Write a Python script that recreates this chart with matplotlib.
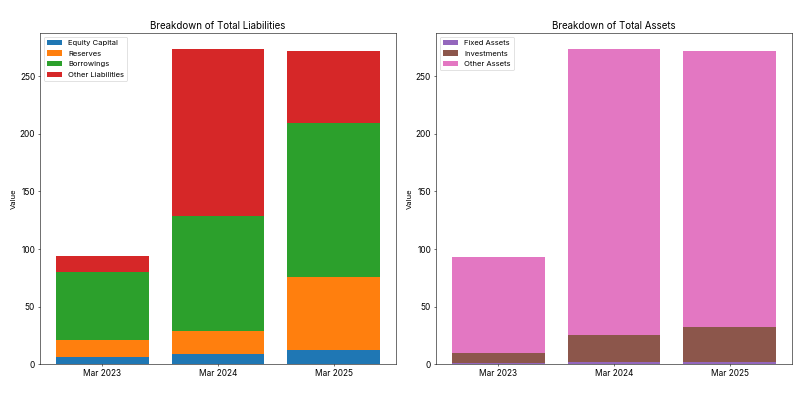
import numpy as np
import matplotlib
matplotlib.use("Agg")
import matplotlib.pyplot as plt

plt.rcParams['font.family'] = ['Inter', 'DejaVu Sans']

years = ["Mar 2023", "Mar 2024", "Mar 2025"]

# liabilities side
equity_capital = [6.4, 9.0, 12.2]
reserves = [14.4, 20.0, 63.9]
borrowings = [59.4, 100.0, 133.1]
other_liabilities = [13.6, 144.8, 62.8]

# assets side
fixed_assets = [1.0, 2.0, 2.0]
investments = [8.9, 23.2, 30.4]
other_assets = [83.5, 248.6, 239.6]

x = np.arange(len(years))
fig, (ax1, ax2) = plt.subplots(1, 2, figsize=(16, 8), dpi=50)

bottom = np.zeros(len(years))
for vals, lab, col in [(equity_capital, "Equity Capital", "tab:blue"),
                       (reserves, "Reserves", "tab:orange"),
                       (borrowings, "Borrowings", "tab:green"),
                       (other_liabilities, "Other Liabilities", "tab:red")]:
    ax1.bar(x, vals, bottom=bottom, color=col, label=lab, width=0.8)
    bottom += np.array(vals)
ax1.set_title("Breakdown of Total Liabilities", fontsize=14)
ax1.set_ylabel("Value", fontsize=11)
ax1.set_xticks(x)
ax1.set_xticklabels(years)
ax1.tick_params(labelsize=12)
ax1.legend(loc="upper left", fontsize=11, labelspacing=0.55)

bottom = np.zeros(len(years))
for vals, lab, col in [(fixed_assets, "Fixed Assets", "tab:purple"),
                       (investments, "Investments", "tab:brown"),
                       (other_assets, "Other Assets", "tab:pink")]:
    ax2.bar(x, vals, bottom=bottom, color=col, label=lab, width=0.8)
    bottom += np.array(vals)
ax2.set_title("Breakdown of Total Assets", fontsize=14)
ax2.set_ylabel("Value", fontsize=11)
ax2.set_xticks(x)
ax2.set_xticklabels(years)
ax2.tick_params(labelsize=12)
ax2.legend(loc="upper left", fontsize=11, labelspacing=0.55)

plt.subplots_adjust(left=0.05, right=0.99, top=0.9175, bottom=0.089, wspace=0.112)
plt.savefig("out.png")
